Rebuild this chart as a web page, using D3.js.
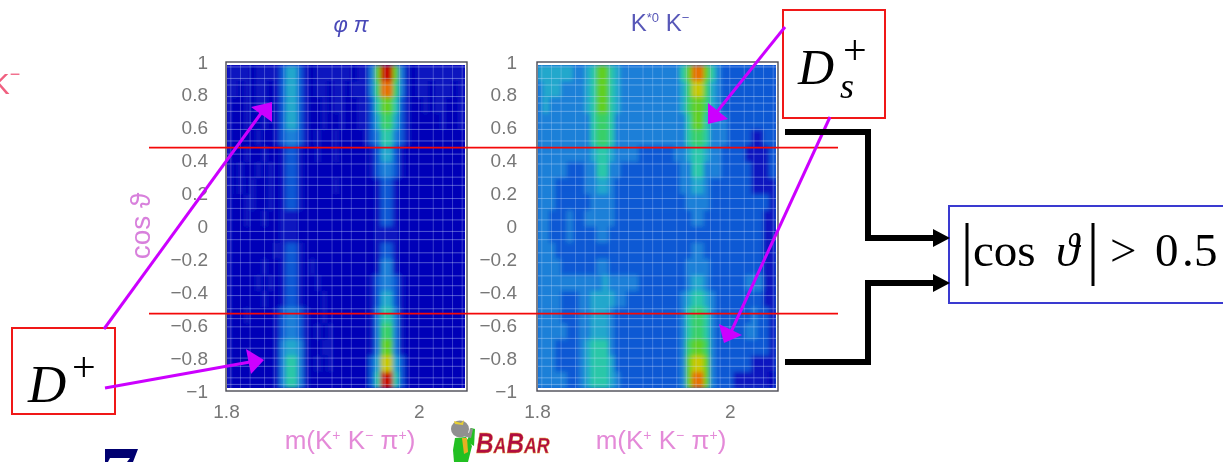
<!DOCTYPE html>
<html>
<head>
<meta charset="utf-8">
<script src="https://cdn.jsdelivr.net/npm/d3@7"></script>
<style>
  html, body { margin: 0; padding: 0; background: #fff; overflow: hidden; }
  text { font-family: "Liberation Sans", Arial, sans-serif; }
  .serif { font-family: "Liberation Serif", "Times New Roman", serif; fill: #000; }
</style>
</head>
<body>
<div class="viz"></div>
<script>
// intensity per cell, hex digit 0-a, top row is cos = 1
const phiPiRows = [
  "1111011112 4421011111 101137aa73 1011111111",
  "1101011012 4421011011 0111369963 1011011101",
  "1001011012 4421001011 0011257752 1001011001",
  "1001001012 4421001001 0011246642 1000001001",
  "1000010012 3321010010 0001235532 1000000000",
  "1001001001 2210010010 0000124421 0000000000",
  "1010010101 2210000000 0000123321 0000000000",
  "1010100101 2210000010 0000012210 0000000000",
  "1001100101 2210000000 0000012210 0000000000",
  "1001001001 1100000000 0000012210 0000000000",
  "1000000001 1100000000 0000011110 0000000000",
  "1000000011 2210000000 0000012210 0000000000",
  "1000001001 2210100000 0000013310 0000000000",
  "1000010101 2210010000 0000123321 0000000000",
  "1000001001 2210001000 0000124421 0000000000",
  "1001000012 3321001000 0000135531 0000000000",
  "1000000012 3321010100 0000136631 0000000000",
  "1000000013 4431001100 0000137731 0000000000",
  "1000000013 5531010100 0000248842 0000000000",
  "1000000013 5531000000 000025aa52 0000000000"
];
const kstarKRows = [
  "4444443345 7754333333 3333579975 3222222222",
  "3444333345 7754333333 3333468864 3222222222",
  "3433333345 7754333333 3333467764 3222222222",
  "3333333335 6653333333 3333357753 3322222222",
  "3333333335 6653333333 3333356653 3322221122",
  "3333333334 5543333222 2223345543 3222211112",
  "3333322233 5533222222 2222335533 3222221112",
  "3332222233 4432222222 2222334432 2222221111",
  "3332222223 3332222222 2222233332 2222222221",
  "3322232233 3332222222 2222223322 2222222211",
  "3322232222 3322222222 2222222222 2222222211",
  "3332222222 2222222222 2222223322 2222222211",
  "3333222222 3322222222 2222233332 2222222211",
  "3333333333 3433333222 2222234432 2222233311",
  "3333222334 4443322222 2222345543 2222222211",
  "3333222334 4432222222 2222356653 2222223221",
  "3333322334 4432222222 2222356653 2222233221",
  "3332222345 5532222222 2222367763 2222222221",
  "3332222345 5542222222 2222378873 2222221111",
  "3333322345 5543222222 2222379973 2221111110"
];
const heatColors = ["#0404b8", "#0818c0", "#1058d4", "#1a80d8", "#20a8cc", "#2cc8a8",
                    "#38d068", "#60d020", "#c8c800", "#e87000", "#c81000"];

const massDomain = [1.8, 2.05];
const cosDomain = [1, -1];
const massTicks = [1.8, 2];
const cosTicks = [1, 0.8, 0.6, 0.4, 0.2, 0, -0.2, -0.4, -0.6, -0.8, -1];
const cutValues = [0.48, -0.53];
const gridMass = [1.805, 1.815, 1.825, 1.84, 1.85, 1.86, 1.875, 1.885, 1.895, 1.91, 1.92, 1.93,
                  1.945, 1.955, 1.965, 1.98, 1.99, 2.0, 2.015, 2.025, 2.035, 2.045];
const gridCos = [0.97, 0.9, 0.86, 0.79, 0.75, 0.7, 0.63, 0.59, 0.52, 0.44, 0.38, 0.3, 0.25, 0.17,
                 0.11, 0.04, -0.03, -0.08, -0.16, -0.22, -0.3, -0.36, -0.42, -0.5, -0.56, -0.61,
                 -0.68, -0.74, -0.8, -0.85, -0.92, -0.96];

const panels = [
  {rows: phiPiRows, x0: 226, x1: 467, pad: 18, base: 0},
  {rows: kstarKRows, x0: 537, x1: 778, pad: 20, base: 2}
];
const plotTop = 62, plotBottom = 391;

const svg = d3.select(".viz").append("svg")
    .attr("width", 1223)
    .attr("height", 462)
    .style("display", "block");

const defs = svg.append("defs");
defs.append("filter").attr("id", "smear")
    .attr("x", "-5%").attr("y", "-5%").attr("width", "110%").attr("height", "110%")
  .append("feGaussianBlur").attr("stdDeviation", 2.2);
defs.append("filter").attr("id", "soft")
  .append("feGaussianBlur").attr("stdDeviation", 0.45);

const y = d3.scaleLinear().domain(cosDomain).range([plotTop, plotBottom]);

function drawPanel(p, i) {
  const cells = p.rows.map(r => Array.from(r.replace(/ /g, ""), c => parseInt(c, 16)));
  const x = d3.scaleLinear().domain(massDomain).range([p.x0, p.x1]);
  const col = d3.scaleBand().domain(d3.range(40)).range([p.x0, p.x1 - 3]);
  const row = d3.scaleBand().domain(d3.range(20)).range([plotTop + 3, plotBottom - 3]);

  const g = svg.append("g");
  defs.append("clipPath").attr("id", "clip" + i)
    .append("rect")
      .attr("x", p.x0 + 1).attr("y", plotTop + 3)
      .attr("width", p.x1 - p.x0 - 3).attr("height", plotBottom - plotTop - 6);

  const plot = g.append("g").attr("clip-path", `url(#clip${i})`);
  plot.append("rect")
    .attr("x", p.x0).attr("y", plotTop)
    .attr("width", p.x1 - p.x0).attr("height", plotBottom - plotTop)
    .attr("fill", heatColors[p.base]);
  const heat = plot.append("g").attr("filter", "url(#smear)");
  cells.forEach((vals, r) => {
    heat.selectAll(null).data(vals).enter().append("rect")
      .attr("x", (d, c) => col(c))
      .attr("y", row(r))
      .attr("width", col.bandwidth() + 0.5)
      .attr("height", row.bandwidth() + 0.5)
      .attr("fill", d => heatColors[d]);
  });

  // the pale mesh of the lego plot
  plot.selectAll(".gx").data(gridMass).enter().append("line")
    .attr("class", "gx")
    .attr("x1", d => x(d)).attr("x2", d => x(d))
    .attr("y1", plotTop).attr("y2", plotBottom)
    .attr("stroke", "#cfe4ff").attr("stroke-opacity", 0.28);
  plot.selectAll(".gy").data(gridCos).enter().append("line")
    .attr("class", "gy")
    .attr("x1", p.x0).attr("x2", p.x1)
    .attr("y1", d => y(d)).attr("y2", d => y(d))
    .attr("stroke", "#d8e8ff").attr("stroke-opacity", 0.38);

  g.append("rect")
    .attr("x", p.x0).attr("y", plotTop)
    .attr("width", p.x1 - p.x0).attr("height", plotBottom - plotTop)
    .attr("fill", "none")
    .attr("stroke", "#4a4a55")
    .attr("stroke-width", 1.4);

  const axisText = g.append("g").attr("filter", "url(#soft)");
  const left = axisText.append("g")
    .attr("transform", `translate(${p.x0},0)`)
    .call(d3.axisLeft(y).tickValues(cosTicks).tickSize(0).tickPadding(p.pad)
      .tickFormat(d => String(d).replace("-", "\u2212")));
  const below = axisText.append("g")
    .attr("transform", `translate(0,${plotBottom})`)
    .call(d3.axisBottom(x).tickValues(massTicks).tickSize(0).tickPadding(14)
      .tickFormat(d => d));
  [left, below].forEach(a => {
    a.select(".domain").remove();
    a.selectAll("text")
      .attr("fill", "#777")
      .style("font-size", "19px");
  });
}
panels.forEach(drawPanel);

// titles and axis names
const soft = svg.append("g").attr("filter", "url(#soft)");
function addLabel(xPos, yPos, size, fill, parts, extra) {
  const t = soft.append("text")
    .attr("x", xPos).attr("y", yPos)
    .attr("text-anchor", "middle")
    .style("font-size", size + "px")
    .attr("fill", fill);
  if (extra) t.attr("transform", extra);
  parts.forEach(s => {
    t.append("tspan").text(s[0])
      .attr("dy", s[1] || 0)
      .style("font-size", s[2] ? s[2] + "px" : null);
  });
  return t;
}
addLabel(351, 32, 22, "#4848b8", [["\u03c6 \u03c0"]]).style("font-style", "italic");
addLabel(660, 31, 24, "#5858b8", [["K"], ["*0", -9, 13], [" K", 9], ["\u2212", -9, 13]]);
[350, 661].forEach(cx => {
  addLabel(cx, 449, 26, "#e48ad8", [["m(K"], ["+", -9, 14], [" K", 9], ["\u2212", -9, 14], [" \u03c0", 9], ["+", -9, 14], [")", 9]]);
});
addLabel(0, 0, 28, "#d880dc", [["cos \u03d1"]], "translate(150,226) rotate(-90)");
addLabel(5, 94, 30, "#f06080", [["K"], ["\u2212", -14, 18]]);

// cut lines across both plots
svg.selectAll(".cut").data(cutValues).enter().append("line")
  .attr("class", "cut")
  .attr("x1", 149).attr("x2", 838)
  .attr("y1", d => y(d)).attr("y2", d => y(d))
  .attr("stroke", "#f40808")
  .attr("stroke-width", 1.7);

// boxes
function box(x0, y0, x1, y1, color) {
  svg.append("path")
    .attr("d", `M${x1},${y0}H${x0}V${y1}H${x1}` + (x1 < 1223 ? "Z" : ""))
    .attr("fill", "none")
    .attr("stroke", color)
    .attr("stroke-width", 2);
}
box(12, 328, 115, 414, "#f01818");
box(783, 10, 885, 118, "#f01818");
box(949, 206, 1230, 303, "#3a3ad0");

// magenta pointers
function pointer(x0, y0, x1, y1, tip) {
  svg.append("line")
    .attr("x1", x0).attr("y1", y0).attr("x2", x1).attr("y2", y1)
    .attr("stroke", "#cc00ff").attr("stroke-width", 3);
  svg.append("polygon")
    .attr("points", tip.join(" "))
    .attr("fill", "#cc00ff");
}
pointer(104, 329, 262, 112, ["272,102", "251,107", "272,122"]);
pointer(105, 388, 250, 362, ["264,360", "246,349", "251,374"]);
pointer(785, 27, 716, 113, ["708,124", "708,103", "728,119"]);
pointer(830, 117, 731, 332, ["724,343", "719,324", "742,335"]);

// black brackets into the cut box
function bracket(y0, y1) {
  svg.append("path")
    .attr("d", `M785,${y0}H868V${y1}H935`)
    .attr("fill", "none").attr("stroke", "#000").attr("stroke-width", 6);
  svg.append("polygon")
    .attr("points", `933,${y1 - 9} 950,${y1} 933,${y1 + 9}`)
    .attr("fill", "#000");
}
bracket(132, 238);
bracket(362, 283);

function serif(xPos, yPos, size, str, italic) {
  svg.append("text").attr("class", "serif")
    .attr("x", xPos).attr("y", yPos)
    .style("font-size", size + "px")
    .style("font-style", italic ? "italic" : "normal")
    .text(str);
}
serif(28, 402, 53, "D", true);
serif(72, 381, 42, "+", false);
serif(798, 84, 50, "D", true);
serif(843, 64, 42, "+", false);
serif(840, 98, 36, "s", true);

serif(973, 266, 47, "cos", false);
serif(1056, 266, 47, "\u03d1", true);
serif(1110, 266, 47, ">", false);
serif(1155, 266, 47, "0", false);
serif(1182, 266, 47, ".", false);
serif(1194, 266, 47, "5", false);
svg.selectAll(".abs").data([967, 1093]).enter().append("line")
  .attr("class", "abs")
  .attr("x1", d => d).attr("x2", d => d)
  .attr("y1", 223).attr("y2", 286)
  .attr("stroke", "#000").attr("stroke-width", 3);

// bits of the slide around the plots: logo and a cut off glyph
svg.append("path")
  .attr("d", "M105,449H138L133,462H127L130,458H110L108,462H105Z")
  .attr("fill", "#000070");

const logo = svg.append("g").attr("filter", "url(#soft)");
logo.append("path").attr("fill", "#22c022")
  .attr("d", "M455,438 L466,437 L472,446 L468,462 L454,462 L453,450Z");
logo.append("path").attr("fill", "#22c022")
  .attr("d", "M467,442 L471,428 L475,429 L474,446Z");
logo.append("path").attr("fill", "#e8b020").attr("d", "M462,438 L467,438 L468,452 L464,454Z");
logo.append("ellipse").attr("cx", 460).attr("cy", 429).attr("rx", 9).attr("ry", 8.5).attr("fill", "#909090");
logo.append("path").attr("fill", "#909090").attr("d", "M462,428 L469,433 L470,428 L473,429 L471,438 L462,436Z");
logo.append("path").attr("fill", "#e8d030").attr("d", "M454,421 L461,423 L464,420 L463,425 L455,424Z");
const babar = logo.append("text")
  .attr("transform", "translate(476,453) scale(0.81,1)")
  .attr("fill", "#b01040")
  .attr("stroke", "#e8a030").attr("stroke-width", 0.4)
  .style("font-style", "italic").style("font-weight", "bold");
[["B", 30], ["A", 22], ["B", 30], ["A", 22], ["R", 22]].forEach(s => {
  babar.append("tspan").text(s[0]).style("font-size", s[1] + "px");
});
</script>
</body>
</html>
